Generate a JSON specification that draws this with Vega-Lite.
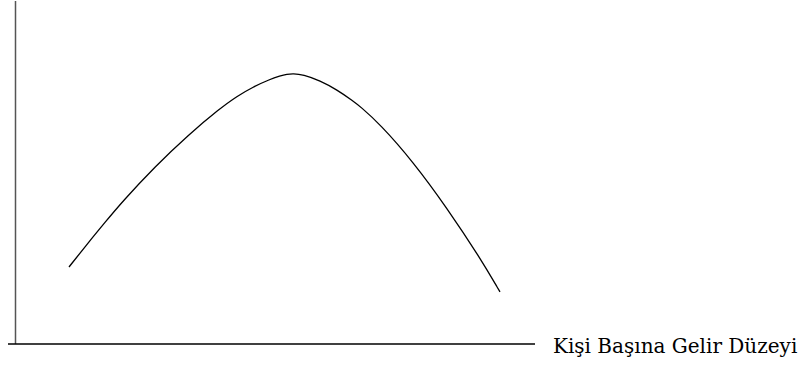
{
  "$schema": "https://vega.github.io/schema/vega-lite/v6.json",
  "width": 804,
  "height": 367,
  "autosize": {"type": "fit", "contains": "padding"},
  "padding": 0,
  "background": "white",
  "config": {"view": {"stroke": null}},
  "datasets": {
    "curve": [
      {"gelir": 69, "deger": 100.3},
      {"gelir": 88, "deger": 124.3},
      {"gelir": 105, "deger": 145},
      {"gelir": 122, "deger": 165.5},
      {"gelir": 155, "deger": 201},
      {"gelir": 188, "deger": 232.5},
      {"gelir": 220, "deger": 259.3},
      {"gelir": 237, "deger": 271.5},
      {"gelir": 253, "deger": 280.8},
      {"gelir": 270, "deger": 288.5},
      {"gelir": 280, "deger": 291.8},
      {"gelir": 287, "deger": 293.6},
      {"gelir": 293, "deger": 294.3},
      {"gelir": 303, "deger": 293.2},
      {"gelir": 320, "deger": 287.2},
      {"gelir": 337, "deger": 278},
      {"gelir": 353, "deger": 266.8},
      {"gelir": 360, "deger": 261.4},
      {"gelir": 380, "deger": 243.6},
      {"gelir": 413, "deger": 206},
      {"gelir": 447, "deger": 159.5},
      {"gelir": 480, "deger": 109.5},
      {"gelir": 500, "deger": 75.3}
    ],
    "axes": [
      {"eksen": "dikey", "x": 15.5, "x2": 15.5, "y": 23, "y2": 367, "renk": "#555555"},
      {"eksen": "yatay", "x": 8, "x2": 535, "y": 23, "y2": 23, "renk": "#000000"}
    ],
    "labels": [
      {"x": 553, "y": 14, "metin": "Kişi Başına Gelir Düzeyi"}
    ]
  },
  "layer": [
    {
      "data": {"name": "axes"},
      "mark": {"type": "rule", "strokeWidth": 1.5},
      "encoding": {
        "x": {"field": "x", "type": "quantitative", "scale": {"domain": [0, 804], "nice": false, "zero": false}, "axis": null},
        "x2": {"field": "x2"},
        "y": {"field": "y", "type": "quantitative", "scale": {"domain": [0, 367], "nice": false, "zero": false}, "axis": null},
        "y2": {"field": "y2"},
        "color": {"field": "renk", "type": "nominal", "scale": null}
      }
    },
    {
      "data": {"name": "curve"},
      "mark": {"type": "line", "interpolate": "basis", "color": "black", "strokeWidth": 1.3},
      "encoding": {
        "x": {"field": "gelir", "type": "quantitative", "scale": {"domain": [0, 804], "nice": false, "zero": false}, "axis": null},
        "y": {"field": "deger", "type": "quantitative", "scale": {"domain": [0, 367], "nice": false, "zero": false}, "axis": null}
      }
    },
    {
      "data": {"name": "labels"},
      "mark": {"type": "text", "align": "left", "baseline": "alphabetic", "font": "DejaVu Serif", "fontSize": 20, "color": "black"},
      "encoding": {
        "x": {"field": "x", "type": "quantitative", "scale": {"domain": [0, 804], "nice": false, "zero": false}, "axis": null},
        "y": {"field": "y", "type": "quantitative", "scale": {"domain": [0, 367], "nice": false, "zero": false}, "axis": null},
        "text": {"field": "metin"}
      }
    }
  ]
}
